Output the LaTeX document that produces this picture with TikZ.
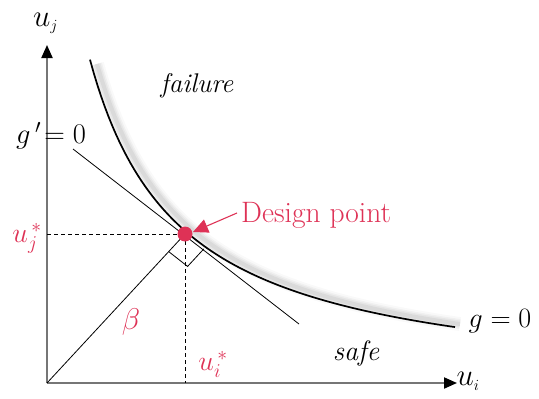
\RequirePackage{fix-cm}
\documentclass[tikz,border=0pt]{standalone}
\usetikzlibrary{arrows.meta,calc}
\definecolor{crim}{RGB}{222,50,86}
\definecolor{axgray}{RGB}{118,118,118}
\tikzset{
  axis/.style={axgray, line width=2pt, -{Triangle[length=13pt,width=11pt,color=black]}},
  thinline/.style={black, line width=0.8pt},
  dashline/.style={black, line width=0.9pt, dash pattern=on 4pt off 3pt},
  lbl/.style={inner sep=0pt},
}
\begin{document}
\begin{tikzpicture}[x=1pt,y=-1pt]
\useasboundingbox (0,0) rectangle (539,399);
\coordinate (O) at (47,383);
\coordinate (YT) at (47,45);
\coordinate (XT) at (457,383);
\coordinate (D) at (185,234);
\coordinate (TA) at (73,149);
\coordinate (TB) at (299,324);
\coordinate (HJ) at (47,234);
\coordinate (VI) at (185,383);
% shadow of curve
\foreach \w/\o in {14/0.025, 10/0.035, 7/0.045, 4/0.05}{
  \draw[black, opacity=\o, line width=\w pt, shift={(5,-3)}]
    plot[domain=92:455, samples=80, variable=\x] (\x,{393-300/(\x/100)});
}
% curve g=0
\draw[black, line width=1.7pt]
  plot[domain=90:455, samples=100, variable=\x] (\x,{393-300/(\x/100)});
% axes
\draw[axis] (O) -- (YT);
\draw[axis] (O) -- (XT);
% tangent line and beta
\draw[thinline] (TA) -- (TB);
\draw[thinline] (O) -- (D);
% right angle marker
\draw[thinline] ($(D)!24pt!(O)$) coordinate (R1) -- ++(18.9,14.8) coordinate (R2) -- ($(D)!24pt!(TB)$);
% dashed lines
\draw[dashline] (HJ) -- (D);
\draw[dashline] (D) -- (VI);
% design point
\fill[crim] (D) circle (7.5pt);
\node[lbl, anchor=west, text=crim, font=\fontsize{29.5}{32}\selectfont] (dp) at (241,215) {Design point};
\coordinate (AS) at ($(dp.west)+(-4,-2)$);
\coordinate (AE) at (193,232);
\draw[crim, line width=1.1pt, -{Triangle[length=15pt,width=14pt]}] (AS) -- (AE);
% labels
\node[lbl, anchor=base west, font=\fontsize{31}{31}\selectfont] (uj) at (33,26) {$u_{\scriptscriptstyle j}$};
\node[lbl, font=\fontsize{31}{31}\selectfont] (ui) at (468,381) {$u_{\scriptscriptstyle i}$};
\node[lbl, font=\fontsize{28.5}{28.5}\selectfont] (gp) at (51,136) {$g\,'\!=0$};
\node[lbl, font=\fontsize{28}{28}\selectfont] (g0) at (500,321) {$g=0$};
\node[lbl, font=\fontsize{27}{27}\selectfont\itshape] (fail) at (197,86) {failure};
\node[lbl, font=\fontsize{28}{28}\selectfont\itshape] (safe) at (356,353) {safe};
\node[lbl, text=crim, font=\fontsize{28}{28}\selectfont] (ujs) at (27,238) {$u_j^{\,*}$};
\node[lbl, text=crim, font=\fontsize{28}{28}\selectfont] (uis) at (213,364) {$u_i^{\,*}$};
\node[lbl, text=crim, font=\fontsize{30}{30}\selectfont] (beta) at (131,322) {$\beta$};
\end{tikzpicture}
\end{document}
